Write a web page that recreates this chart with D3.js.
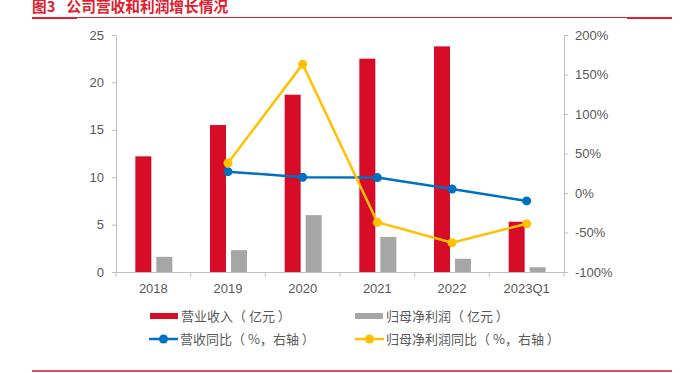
<!DOCTYPE html>
<html><head><meta charset="utf-8">
<script src="https://cdn.jsdelivr.net/npm/d3@7"></script>
<style>body{margin:0;background:#fff}svg{display:block;font-family:"Liberation Sans",Arial,sans-serif}</style>
</head><body><svg id="c" width="686" height="373"></svg>
<script>
const categories = ["2018","2019","2020","2021","2022","2023Q1"];
const revenue = [12.2, 15.5, 18.7, 22.5, 23.8, 5.3];
const netProfit = [1.6, 2.3, 6.0, 3.7, 1.4, 0.5];
const revenueYoY = [null, 27, 20, 19.5, 5, -10];
const profitYoY = [null, 38, 163, -37, -63, -39];
const leftTicks = [0,5,10,15,20,25];
const rightTicks = [-100,-50,0,50,100,150,200];
const seriesNames = ["营业收入（ 亿元 ）","归母净利润（ 亿元 ）","营收同比（ %，右轴 ）","归母净利润同比（ %，右轴 ）"];
const titleNum = "图3";
const titleText = "公司营收和利润增长情况";

const RED="#d70c27", GRAY="#a6a6a6", BLUE="#0070c0", YEL="#ffc000", AX="#bfbfbf", TXT="#595959";
const svg = d3.select("#c");
const L=116, R=564, T=35, B=272;
const x = d3.scaleBand().domain(categories).range([L,R]);
const yL = d3.scaleLinear().domain([0,25]).range([B,T]);
const yR = d3.scaleLinear().domain([-100,200]).range([B,T]);

// title
const tg = svg.append("g").attr("fill","#e0202e")
  .attr("font-family","'Noto Sans CJK SC',sans-serif").attr("font-weight","bold").attr("font-size",14.7);
tg.append("text").attr("x",32).attr("y",12).text(titleNum);
tg.append("text").attr("x",66.5).attr("y",12).text(titleText);
svg.append("line").attr("x1",32).attr("x2",672).attr("y1",17.5).attr("y2",17.5).attr("stroke","#e0202e").attr("stroke-width",1);
svg.append("line").attr("x1",32).attr("x2",77).attr("y1",18).attr("y2",18).attr("stroke","#e0202e").attr("stroke-width",2);
svg.append("line").attr("x1",627).attr("x2",672).attr("y1",18).attr("y2",18).attr("stroke","#e0202e").attr("stroke-width",2);
svg.append("line").attr("x1",32).attr("x2",672).attr("y1",371).attr("y2",371).attr("stroke","#d0152c").attr("stroke-width",1.5);

// axes
const gL = svg.append("g").attr("transform",`translate(${L},0)`)
  .call(d3.axisLeft(yL).tickValues(leftTicks).tickSize(4).tickPadding(8));
const gR = svg.append("g").attr("transform",`translate(${R},0)`)
  .call(d3.axisRight(yR).tickValues(rightTicks).tickSize(4).tickPadding(7).tickFormat(d=>d+"%"));
const gX = svg.append("g").attr("transform",`translate(0,${B})`)
  .call(d3.axisBottom(x).tickSize(0).tickPadding(12));
[gL,gR,gX].forEach(g=>{
  g.selectAll("path,line").attr("stroke",AX);
  g.selectAll("text").attr("fill",TXT).attr("font-size",13).attr("font-family","'Liberation Sans',Arial,sans-serif");
});
// x boundary ticks
const bounds = categories.map(c=>x(c)).concat([R]);
svg.append("g").selectAll("line").data(bounds).join("line")
  .attr("x1",d=>d).attr("x2",d=>d).attr("y1",B).attr("y2",B+5).attr("stroke",AX);

// bars
const cx = c => x(c)+x.bandwidth()/2;
svg.append("g").selectAll("rect").data(categories).join("rect")
  .attr("x",c=>cx(c)-18).attr("width",16)
  .attr("y",(c,i)=>yL(revenue[i])).attr("height",(c,i)=>B-yL(revenue[i])).attr("fill",RED);
svg.append("g").selectAll("rect").data(categories).join("rect")
  .attr("x",c=>cx(c)+3).attr("width",16)
  .attr("y",(c,i)=>yL(netProfit[i])).attr("height",(c,i)=>B-yL(netProfit[i])).attr("fill",GRAY);

// lines
function drawLine(vals,color){
  const pts = categories.map((c,i)=>({c,v:vals[i]})).filter(d=>d.v!==null);
  svg.append("path").datum(pts).attr("fill","none").attr("stroke",color).attr("stroke-width",2.5)
    .attr("d",d3.line().x(d=>cx(d.c)).y(d=>yR(d.v)));
  svg.append("g").selectAll("circle").data(pts).join("circle")
    .attr("cx",d=>cx(d.c)).attr("cy",d=>yR(d.v)).attr("r",4.5).attr("fill",color);
}
drawLine(revenueYoY,BLUE);
drawLine(profitYoY,YEL);

// legend
const lg = svg.append("g").attr("font-family","'Noto Sans CJK SC',sans-serif").attr("font-size",13).attr("fill",TXT);
const items = [
  {x:150,y:316,type:"rect",color:RED,name:seriesNames[0]},
  {x:355,y:316,type:"rect",color:GRAY,name:seriesNames[1]},
  {x:149,y:339,type:"line",color:BLUE,name:seriesNames[2]},
  {x:355,y:339,type:"line",color:YEL,name:seriesNames[3]}
];
items.forEach(it=>{
  if(it.type==="rect"){
    lg.append("rect").attr("x",it.x).attr("y",it.y-3).attr("width",28).attr("height",6).attr("fill",it.color);
  } else {
    lg.append("line").attr("x1",it.x).attr("x2",it.x+29).attr("y1",it.y).attr("y2",it.y).attr("stroke",it.color).attr("stroke-width",2.5);
    lg.append("circle").attr("cx",it.x+14.5).attr("cy",it.y).attr("r",4.5).attr("fill",it.color);
  }
  lg.append("text").attr("x",it.x+31).attr("y",it.y).attr("dy","0.35em").text(it.name);
});
</script></body></html>
